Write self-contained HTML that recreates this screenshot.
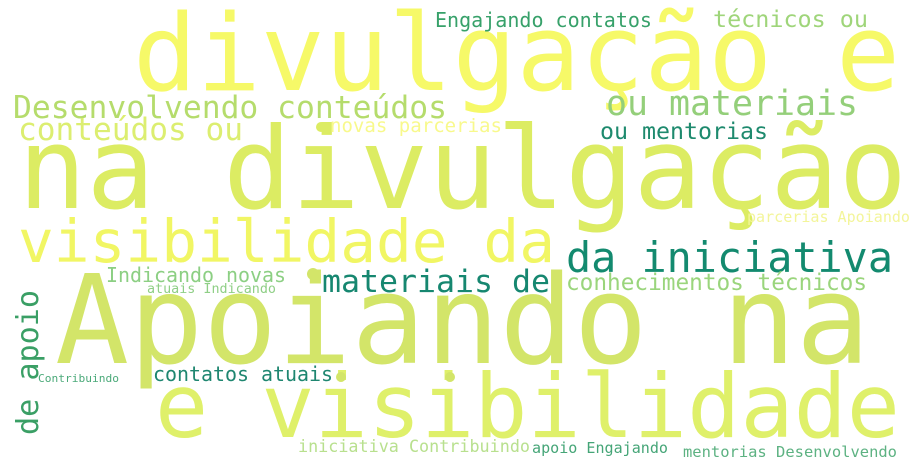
<!DOCTYPE html>
<html><head><meta charset="utf-8"><style>
html,body{margin:0;padding:0;background:#fff;}
svg{display:block;}
text{font-family:"DejaVu Sans Mono","Liberation Mono",monospace;}
</style></head><body>
<svg width="921" height="470" viewBox="0 0 921 470">
<rect width="921" height="470" fill="#fff"/>
<g id="words"></g>
<circle cx="321" cy="127" r="5" fill="#dcec63"/>
<circle cx="313" cy="274" r="6" fill="#d3e569"/>
<circle cx="341" cy="377" r="5" fill="#d3e569"/>
<circle cx="450" cy="377" r="5" fill="#d3e569"/>
</svg>
<script>
const words=["divulgação e","na divulgação","visibilidade da","Apoiando na","e visibilidade","Desenvolvendo conteúdos","conteúdos ou","novas parcerias","Engajando contatos","técnicos ou","ou materiais","ou mentorias","da iniciativa","materiais de","conhecimentos técnicos","parcerias Apoiando","Indicando novas","atuais Indicando","de apoio","Contribuindo","contatos atuais","iniciativa Contribuindo","apoio Engajando","mentorias Desenvolvendo"];
const xs=[133,18,18,55,155,13,18,330,435,713,606,600,566,322,566,747,106,147,38,38,153,298,532,683];
const ys=[90,208,262,363,437,118,140,132,27,27,115,139,272,292,290,222,282,293,435,382,381,452,453,457];
const widths=[767,889,537,815,745,434,225,172,217,155,252,168,327,228,301,163,180,129,145,81,180,232,136,214];
const sizes=[106,113,59,123,88,31,31,19,20,23,35,23,42,31,23,15,20,13,30,11,20,17,15,15];
const colors=["#f6f968","#dcec63","#f1f664","#d3e569","#dff06a","#b5dc6c","#dcee70","#f8f98c","#37a16a","#9fd57a","#94cf7a","#1e8a6e","#138a6f","#168770","#9ad57c","#f3f59a","#8ccf83","#8fcf86","#3a9f65","#4caa7a","#1e8670","#b8e08e","#45a577","#5db282"];
const rot=[0,0,0,0,0,0,0,0,0,0,0,0,0,0,0,0,0,0,1,0,0,0,0,0];
const g=document.getElementById('words');
for(let i=0;i<words.length;i++){
  const t=document.createElementNS('http://www.w3.org/2000/svg','text');
  
  
  t.setAttribute('x',xs[i]);t.setAttribute('y',ys[i]);
  t.setAttribute('font-size',sizes[i]);t.setAttribute('fill',colors[i]);
  t.setAttribute('textLength',widths[i]);t.setAttribute('lengthAdjust','spacingAndGlyphs');
  if(rot[i])t.setAttribute('transform','rotate(-90 '+xs[i]+' '+ys[i]+')');
  t.textContent=words[i];
  g.appendChild(t);
}
</script>
</body></html>
